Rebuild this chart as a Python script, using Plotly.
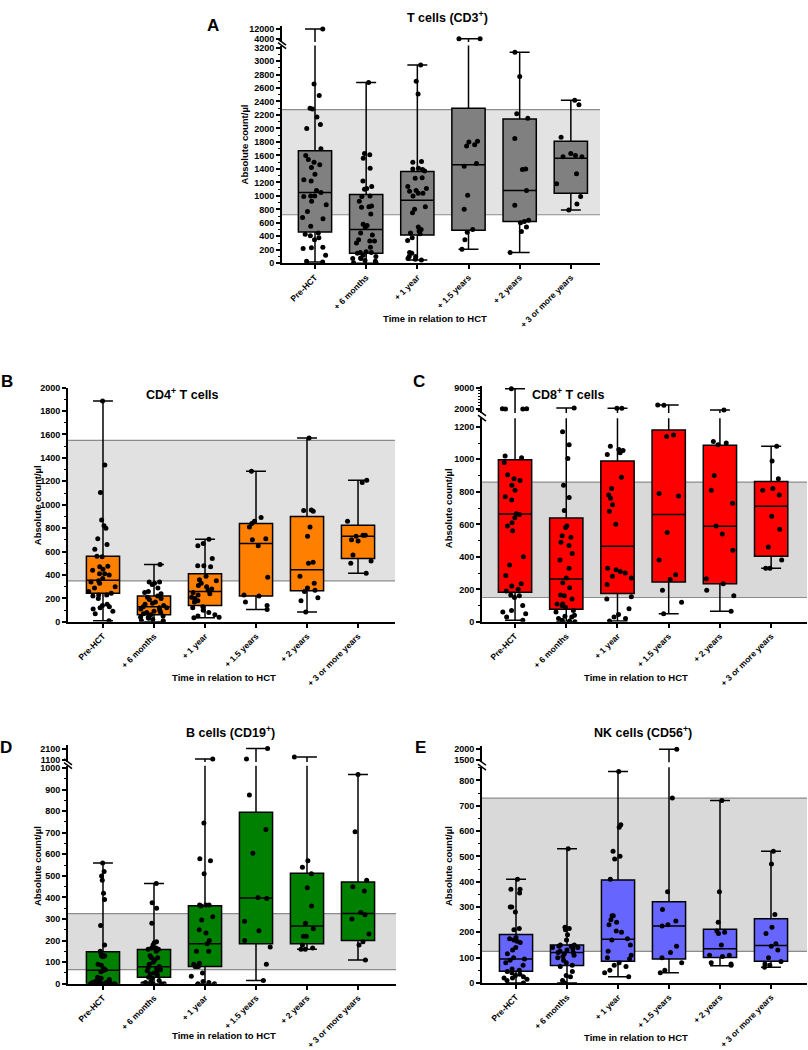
import plotly.graph_objects as go

W, H = 808, 1050

categories = ["Pre-HCT", "+ 6 months", "+ 1 year", "+ 1.5 years", "+ 2 years", "+ 3 or more years"]

# ---------------- Panel A: T cells (CD3+) ----------------
cd3_pre = [11800, 2660, 2490, 2300, 2290, 2170, 2060, 2000, 1700, 1600, 1540, 1500, 1460, 1420, 1320, 1240, 1220,
           1080, 1050, 1000, 1000, 990, 920, 870, 770, 680, 660, 550, 450, 430, 410, 380, 350, 240, 230, 220, 120, 30, 20]
cd3_6m = [2680, 1630, 1610, 1560, 1410, 1220, 1140, 1110, 1100, 1000, 990, 920, 850, 840, 830, 730, 580, 560, 540,
          450, 420, 350, 330, 330, 300, 240, 170, 160, 160, 150, 120, 100, 80, 70, 70, 40, 30, 10, 0]
cd3_1y = [2940, 2700, 2510, 1510, 1500, 1410, 1400, 1390, 1370, 1270, 1260, 1140, 1110, 1080, 1070, 1040, 1040, 1000,
          840, 800, 750, 540, 500, 480, 450, 440, 380, 340, 160, 150, 100, 100, 70, 60, 50]
cd3_15y = [4200, 4200, 1810, 1800, 1760, 1740, 1480, 1440, 1010, 800, 500, 460, 350, 210]
cd3_2y = [3130, 2770, 2220, 2150, 1850, 1400, 1390, 1080, 860, 640, 620, 600, 540, 470, 160]
cd3_3y = [2420, 2350, 1870, 1630, 1600, 1580, 1580, 1330, 1180, 990, 880, 790]
cd3_min = [20, 0, 50, 210, 160, 790]
cd3_q1 = [465, 150, 420, 490, 620, 1040]
cd3_med = [1050, 500, 935, 1460, 1080, 1560]
cd3_q3 = [1670, 1020, 1360, 2300, 2140, 1810]
cd3_max = [11800, 2680, 2940, 4200, 3130, 2420]
cd3_ref = [720, 2280]

# ---------------- Panel B: CD4+ T cells ----------------
cd4_pre = [1885, 1340, 1105, 870, 820, 800, 710, 660, 620, 560, 555, 475, 470, 450, 440, 410, 410, 400, 370, 350,
           340, 330, 300, 290, 260, 245, 230, 230, 220, 200, 150, 140, 130, 120, 110, 90, 70, 10]
cd4_6m = [490, 340, 340, 330, 320, 290, 260, 250, 240, 220, 210, 200, 190, 170, 160, 150, 140, 130, 120, 120, 110,
          100, 90, 80, 80, 70, 60, 50, 40, 40, 30, 20, 10, 10, 0]
cd4_1y = [705, 670, 650, 540, 480, 480, 470, 390, 360, 350, 330, 310, 300, 280, 270, 250, 240, 230, 210, 200, 180,
          170, 130, 120, 100, 80, 60, 50, 40, 35]
cd4_15y = [1285, 890, 860, 840, 810, 710, 700, 650, 380, 230, 220, 170, 140, 105]
cd4_2y = [1570, 955, 945, 950, 810, 730, 510, 500, 390, 330, 290, 270, 260, 205, 180, 85]
cd4_3y = [1210, 1190, 860, 740, 740, 730, 700, 690, 570, 520, 500, 415]
cd4_min = [10, 0, 35, 105, 85, 415]
cd4_q1 = [245, 60, 140, 220, 265, 540]
cd4_med = [355, 130, 260, 670, 445, 730]
cd4_q3 = [560, 220, 410, 840, 900, 825]
cd4_max = [1885, 490, 705, 1285, 1570, 1210]
cd4_ref = [350, 1550]

# ---------------- Panel C: CD8+ T cells ----------------
cd8_pre = [8700, 1950, 1950, 1900, 1900, 1020, 1010, 980, 905, 880, 870, 840, 810, 770, 750, 665, 660, 640, 610, 590,
           560, 400, 350, 285, 235, 220, 200, 190, 165, 160, 150, 100, 70, 60, 50, 30, 10]
cd8_6m = [2200, 1170, 1090, 1005, 840, 765, 685, 590, 580, 530, 520, 490, 470, 420, 380, 330, 270, 240, 210, 165, 160,
          140, 110, 110, 100, 90, 70, 60, 40, 35, 30, 20, 10, 5, 0]
cd8_1y = [2100, 2100, 1080, 1060, 1055, 1040, 1030, 890, 820, 780, 760, 720, 680, 600, 330, 320, 310, 300, 280, 270,
          230, 155, 140, 80, 45, 30, 20, 5]
cd8_15y = [3200, 3150, 1150, 1140, 790, 775, 550, 380, 290, 260, 195, 120, 50]
cd8_2y = [1550, 1110, 1100, 1090, 900, 810, 730, 590, 540, 440, 265, 235, 195, 160, 65]
cd8_3y = [1080, 990, 880, 820, 810, 780, 650, 570, 460, 380, 330, 330]
cd8_min = [10, 0, 5, 50, 65, 330]
cd8_q1 = [182, 77, 174, 245, 235, 403]
cd8_med = [664, 263, 465, 660, 589, 712]
cd8_q3 = [998, 639, 990, 1180, 1087, 864]
cd8_max = [8700, 2200, 2100, 3200, 1550, 1080]
cd8_ref = [150, 860]

# ---------------- Panel D: B cells (CD19+) ----------------
cd19_pre = [560, 520, 500, 480, 420, 390, 270, 180, 150, 140, 130, 130, 130, 125, 90, 85, 70, 65, 60, 55, 30, 25, 20,
            15, 10, 10, 10, 5, 5, 5, 0, 0, 0, 0, 0, 0, 0, 0]
cd19_6m = [465, 375, 350, 280, 195, 190, 180, 165, 165, 160, 160, 150, 130, 120, 120, 110, 100, 90, 80, 75, 70, 65, 60,
           55, 50, 45, 40, 30, 25, 15, 10, 5, 0, 0, 0, 0, 0]
cd19_1y = [1155, 745, 580, 570, 510, 365, 365, 365, 360, 310, 295, 250, 235, 200, 185, 150, 150, 95, 90, 80, 80, 80,
           50, 35, 10, 5, 0, 0]
cd19_15y = [2160, 1155, 875, 715, 605, 400, 395, 290, 245, 200, 170, 90, 15]
cd19_2y = [1350, 570, 540, 510, 445, 360, 280, 255, 220, 220, 180, 165, 160, 160]
cd19_3y = [970, 705, 480, 450, 430, 330, 320, 300, 230, 195, 180, 110]
cd19_min = [0, 0, 0, 15, 160, 110]
cd19_q1 = [0, 30, 80, 185, 185, 200]
cd19_med = [62, 78, 185, 397, 268, 325]
cd19_q3 = [148, 158, 362, 795, 512, 472]
cd19_max = [560, 465, 1155, 2160, 1350, 970]
cd19_ref = [65, 325]

# ---------------- Panel E: NK cells (CD56+) ----------------
cd56_pre = [410, 370, 370, 355, 300, 300, 280, 215, 210, 180, 175, 170, 165, 160, 140, 130, 115, 100, 95, 90, 80, 70,
            55, 50, 45, 40, 35, 30, 25, 20, 20, 15, 10, 0]
cd56_6m = [530, 220, 215, 210, 190, 170, 150, 150, 145, 145, 140, 140, 135, 130, 125, 120, 120, 115, 110, 105, 100, 90,
           80, 70, 65, 45, 30, 25, 10, 0]
cd56_1y = [835, 625, 615, 520, 500, 490, 410, 265, 265, 250, 240, 230, 205, 200, 175, 170, 150, 125, 110, 100, 95, 80,
           70, 65, 50, 40, 25]
cd56_15y = [1990, 730, 360, 290, 245, 230, 225, 145, 120, 100, 80, 50, 40]
cd56_2y = [720, 360, 240, 205, 200, 195, 150, 110, 110, 105, 80, 75, 70]
cd56_3y = [520, 470, 270, 220, 195, 155, 145, 130, 100, 85, 75, 70, 62]
cd56_min = [0, 0, 25, 40, 68, 62]
cd56_q1 = [46, 69, 86, 95, 101, 86]
cd56_med = [95, 120, 173, 225, 135, 148]
cd56_q3 = [191, 150, 407, 321, 212, 254]
cd56_max = [410, 530, 835, 1990, 720, 520]
cd56_ref = [125, 730]

FONT = "Liberation Sans, Arial, sans-serif"


def px(x):
    return x / W


def py(y):
    return 1 - y / H


panels = [
    dict(groups=[cd3_pre, cd3_6m, cd3_1y, cd3_15y, cd3_2y, cd3_3y], mins=cd3_min, q1=cd3_q1, med=cd3_med,
         q3=cd3_q3, maxs=cd3_max, ref=cd3_ref, color="#808080", band="#e3e3e3",
         xdom=(282, 600), xrange=[-0.645, 5.57],
         lower=dict(px=(261.3, 41), range=[0, 3230], dtick=200, minor=100),
         upper=dict(px=(37.5, 21), range=[1515, 14330], tickvals=[4000, 12000], minor=None),
         title="T cells (CD3<sup>+</sup>)", title_xy=(447, 12), letter="A", letter_xy=(213, 21),
         ytitle_xy=(244, 141), xtitle_xy=(435, 317)),
    dict(groups=[cd4_pre, cd4_6m, cd4_1y, cd4_15y, cd4_2y, cd4_3y], mins=cd4_min, q1=cd4_q1, med=cd4_med,
         q3=cd4_q3, maxs=cd4_max, ref=cd4_ref, color="#ff8000", band="#e1e1e1",
         xdom=(68, 395), xrange=[-0.686, 5.725],
         lower=dict(px=(624, 387), range=[0, 2000], dtick=200, minor=100),
         upper=None,
         title="CD4<sup>+</sup> T cells", title_xy=(182, 393), letter="B", letter_xy=(7, 381),
         ytitle_xy=(37, 506), xtitle_xy=(224, 680)),
    dict(groups=[cd8_pre, cd8_6m, cd8_1y, cd8_15y, cd8_2y, cd8_3y], mins=cd8_min, q1=cd8_q1, med=cd8_med,
         q3=cd8_q3, maxs=cd8_max, ref=cd8_ref, color="#ff0000", band="#d9d9d9",
         xdom=(482, 807), xrange=[-0.645, 5.70],
         lower=dict(px=(624, 418), range=[0, 1253], dtick=200, minor=100),
         upper=dict(px=(412.6, 385.3), range=[567, 9667], tickvals=[2000, 9000], minor=1000),
         title="CD8<sup>+</sup> T cells", title_xy=(568, 393), letter="C", letter_xy=(419, 381),
         ytitle_xy=(448, 509), xtitle_xy=(636, 680)),
    dict(groups=[cd19_pre, cd19_6m, cd19_1y, cd19_15y, cd19_2y, cd19_3y], mins=cd19_min, q1=cd19_q1, med=cd19_med,
         q3=cd19_q3, maxs=cd19_max, ref=cd19_ref, color="#008000", band="#dcdcdc",
         xdom=(68, 396), xrange=[-0.686, 5.745],
         lower=dict(px=(990, 769.5), range=[0, 1011], dtick=100, minor=50),
         upper=dict(px=(765.7, 749), range=[874, 2449], tickvals=[1100, 2100], minor=None),
         title="B cells (CD19<sup>+</sup>)", title_xy=(231, 735), letter="D", letter_xy=(6, 751),
         ytitle_xy=(37, 871), xtitle_xy=(224, 1042)),
    dict(groups=[cd56_pre, cd56_6m, cd56_1y, cd56_15y, cd56_2y, cd56_3y], mins=cd56_min, q1=cd56_q1, med=cd56_med,
         q3=cd56_q3, maxs=cd56_max, ref=cd56_ref, color="#6666ff", band="#d9d9d9",
         xdom=(482, 807), xrange=[-0.667, 5.706],
         lower=dict(px=(989.3, 771), range=[0, 852], dtick=100, minor=50),
         upper=dict(px=(766, 750), range=[1373, 2127], tickvals=[1500, 2000], minor=None),
         title="NK cells (CD56<sup>+</sup>)", title_xy=(643, 735), letter="E", letter_xy=(420, 751),
         ytitle_xy=(448, 871), xtitle_xy=(636, 1044)),
]

fig = go.Figure()
layout = {}
shapes = []
annotations = []

BOXW = 0.65
tickfont = dict(family=FONT, size=9, color="black", weight="bold")
xtickfont = dict(family=FONT, size=8.5, color="black", weight="bold")


def ax_key(kind, i):
    return f"{kind}axis" if i == 1 else f"{kind}axis{i}"


def ax_ref(kind, i):
    return kind if i == 1 else f"{kind}{i}"


yi = 0
for pi, p in enumerate(panels, start=1):
    xr = ax_ref("x", pi)
    segs = [("lower", p["lower"])]
    if p["upper"] is not None:
        segs.append(("upper", p["upper"]))
    thr = p["lower"]["range"][1]
    lower_yref = None
    for segname, seg in segs:
        yi += 1
        yr = ax_ref("y", yi)
        if segname == "lower":
            lower_yref = yr
        bottom_px, top_px = seg["px"]
        yax = dict(domain=[py(bottom_px), py(top_px)], range=seg["range"], anchor=xr,
                   showline=True, linecolor="black", linewidth=2, ticks="outside", ticklen=4,
                   tickwidth=1.5, tickcolor="black", tickfont=tickfont, showgrid=False, zeroline=False,
                   fixedrange=True, tickformat="d")
        if segname == "lower":
            yax.update(tickmode="linear", tick0=0, dtick=seg["dtick"])
        else:
            yax.update(tickmode="array", tickvals=seg["tickvals"],
                       ticktext=[str(v) for v in seg["tickvals"]])
        if seg.get("minor"):
            yax["minor"] = dict(tickmode="linear", tick0=0, dtick=seg["minor"], ticks="outside",
                                ticklen=2.5, tickwidth=1, tickcolor="black", showgrid=False)
        layout[ax_key("y", yi)] = yax

        if segname == "lower":
            xs = list(categories)
            q1, med, q3, lo, hi = p["q1"], p["med"], p["q3"], p["mins"], p["maxs"]
            pts_x, pts_y = [], []
            for c, vals in zip(categories, p["groups"]):
                for v in vals:
                    if v <= thr:
                        pts_x.append(c)
                        pts_y.append(v)
        else:
            idx = [i for i, m in enumerate(p["maxs"]) if m > thr]
            xs = [categories[i] for i in idx]
            below = seg["range"][0] - (seg["range"][1] - seg["range"][0])
            q1 = med = q3 = lo = [below] * len(idx)
            hi = [p["maxs"][i] for i in idx]
            pts_x, pts_y = [], []
            for c, vals in zip(categories, p["groups"]):
                for v in vals:
                    if v > thr:
                        pts_x.append(c)
                        pts_y.append(v)

        fig.add_trace(go.Box(x=xs, q1=q1, median=med, q3=q3, lowerfence=lo, upperfence=hi,
                             xaxis=xr, yaxis=yr, fillcolor=p["color"],
                             line=dict(color="black", width=1.5), whiskerwidth=0.6, width=BOXW,
                             boxpoints=False, showlegend=False, hoverinfo="skip"))
        fig.add_trace(go.Box(x=pts_x, y=pts_y, xaxis=xr, yaxis=yr, boxpoints="all", jitter=0.9,
                             pointpos=0, width=BOXW, fillcolor="rgba(0,0,0,0)",
                             line=dict(color="rgba(0,0,0,0)", width=0),
                             marker=dict(color="black", size=5), showlegend=False))

        # axis break marks
        if p["upper"] is not None:
            yanchor = 1 if segname == "lower" else 0
            shapes.append(dict(type="line", xref=f"{xr} domain", yref=f"{yr} domain",
                               xsizemode="pixel", ysizemode="pixel", xanchor=0, yanchor=yanchor,
                               x0=-4, x1=4, y0=3, y1=-3, line=dict(color="black", width=1.5)))

    # x axis
    layout[ax_key("x", pi)] = dict(domain=[px(p["xdom"][0]), px(p["xdom"][1])], range=p["xrange"],
                                  anchor=lower_yref, type="category", categoryorder="array",
                                  categoryarray=categories, showline=True, linecolor="black", linewidth=2,
                                  ticks="outside", ticklen=4, tickwidth=1.5, tickcolor="black",
                                  tickangle=-45, tickfont=xtickfont, showgrid=False, zeroline=False,
                                  fixedrange=True)

    # reference band
    shapes.append(dict(type="rect", xref=f"{xr} domain", yref=lower_yref, x0=0, x1=1,
                       y0=p["ref"][0], y1=p["ref"][1], fillcolor=p["band"], line=dict(width=0), layer="below"))
    for v in p["ref"]:
        shapes.append(dict(type="line", xref=f"{xr} domain", yref=lower_yref, x0=0, x1=1, y0=v, y1=v,
                           line=dict(color="#8c8c8c", width=1.2), layer="below"))

    annotations.append(dict(text=f"<b>{p['title']}</b>", x=px(p["title_xy"][0]), y=py(p["title_xy"][1]),
                            xref="paper", yref="paper", showarrow=False, xanchor="center", yanchor="middle",
                            font=dict(family=FONT, size=12.5, color="black")))
    annotations.append(dict(text=f"<b>{p['letter']}</b>", x=px(p["letter_xy"][0]), y=py(p["letter_xy"][1]),
                            xref="paper", yref="paper", showarrow=False, xanchor="center", yanchor="middle",
                            font=dict(family=FONT, size=17, color="black")))
    annotations.append(dict(text="<b>Absolute count/µl</b>", x=px(p["ytitle_xy"][0]), y=py(p["ytitle_xy"][1]),
                            xref="paper", yref="paper", showarrow=False, xanchor="center", yanchor="middle",
                            textangle=-90, font=dict(family=FONT, size=9.5, color="black")))
    annotations.append(dict(text="<b>Time in relation to HCT</b>", x=px(p["xtitle_xy"][0]),
                            y=py(p["xtitle_xy"][1]), xref="paper", yref="paper", showarrow=False,
                            xanchor="center", yanchor="middle", font=dict(family=FONT, size=9.5, color="black")))

fig.update_layout(width=W, height=H, margin=dict(l=0, r=0, t=0, b=0), paper_bgcolor="white",
                  plot_bgcolor="white", boxmode="overlay", showlegend=False, shapes=shapes,
                  annotations=annotations, font=dict(family=FONT, color="black"), **layout)

fig.write_html("out.html", config={"displayModeBar": False},
               post_script="document.body.style.margin='0';document.body.style.overflow='hidden';")
